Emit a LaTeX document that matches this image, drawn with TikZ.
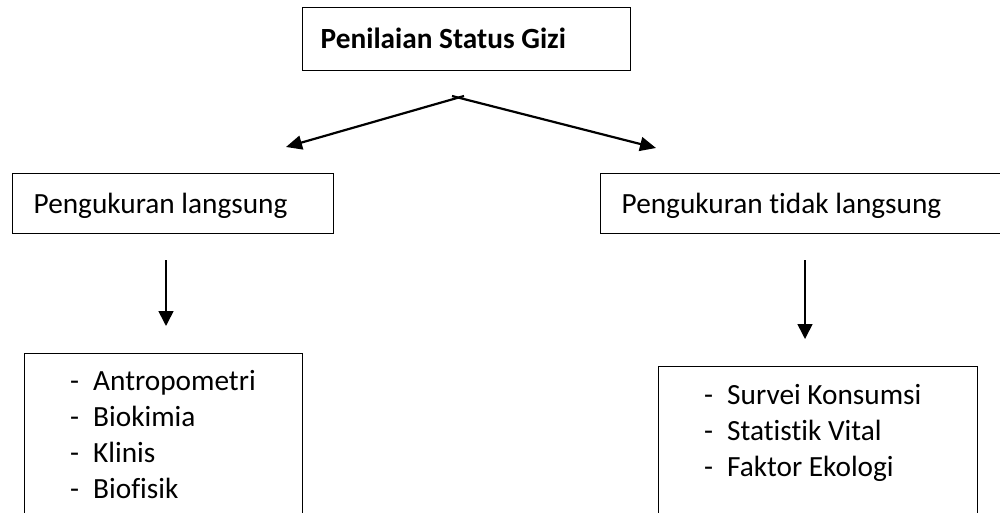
\documentclass[tikz,border=0pt]{standalone}
\usepackage{fontspec}
\setmainfont{Carlito}[Ligatures=NoCommon]
\usetikzlibrary{arrows.meta}

\newcommand{\butir}[1]{\makebox[23pt][l]{-}#1}

\begin{document}
\begin{tikzpicture}[x=1pt,y=-1pt,font=\fontsize{29.3}{36}\selectfont]
		\tikzstyle{Kotak}=[draw,line width=1.4pt,anchor=north west]
		\tikzstyle{Judul}=[Kotak,text height=20pt]
		\tikzstyle{Panah}=[line width=2.2pt,-{Triangle[length=16pt,width=14pt]}]
		\tikzstyle{PanahBawah}=[line width=1.6pt,-{Triangle[length=15pt,width=15pt]}]
		\useasboundingbox (0,0) rectangle (1000,513);
		\clip (0,0) rectangle (1000,513);
		% kotak atas
		\node[Judul,inner xsep=18pt,minimum height=63pt,text depth=2pt] (PSG) at (302,7) {\makebox[292pt][l]{\textbf{Penilaian Status Gizi}}};
		% dua cabang
		\node[Judul,inner xsep=21pt,minimum height=60pt,text depth=0pt] (Langsung) at (12,173) {\makebox[279pt][l]{Pengukuran langsung}};
		\node[Judul,inner xsep=21pt,minimum height=60pt,text depth=0pt] (TidakLangsung) at (600,173) {\makebox[378pt][l]{Pengukuran tidak langsung}};
		% daftar metode
		\node[Kotak,inner xsep=45.5pt,inner ysep=18pt,text height=19pt] (DaftarLangsung) at (24,353)
			{\begin{minipage}[t][200pt][t]{187pt}\butir{Antropometri}\\\butir{Biokimia}\\\butir{Klinis}\\\butir{Biofisik}\end{minipage}};
		\node[Kotak,inner xsep=45.5pt,inner ysep=19pt,text height=19pt] (DaftarTidak) at (658,366)
			{\begin{minipage}[t][200pt][t]{228pt}\butir{Survei Konsumsi}\\\butir{Statistik Vital}\\\butir{Faktor Ekologi}\end{minipage}};
		\coordinate (PuncakKiri) at (464,96);
		\coordinate (PuncakKanan) at (452,96);
		\coordinate (UjungKiri) at (286,147);
		\coordinate (UjungKanan) at (656,148);
		\draw[Panah] (PuncakKiri) -- (UjungKiri);
		\draw[Panah] (PuncakKanan) -- (UjungKanan);
		\coordinate (AwalKiri) at (166,260);
		\coordinate (AkhirKiri) at (166,326);
		\coordinate (AwalKanan) at (805,260);
		\coordinate (AkhirKanan) at (805,339);
		\draw[PanahBawah] (AwalKiri) -- (AkhirKiri);
		\draw[PanahBawah] (AwalKanan) -- (AkhirKanan);
	\end{tikzpicture}
\end{document}
